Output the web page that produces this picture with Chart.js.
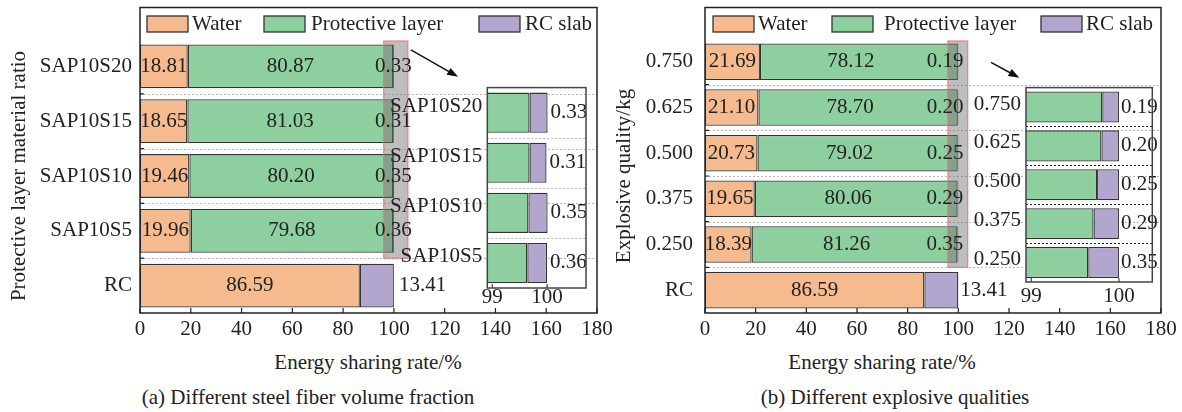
<!DOCTYPE html>
<html>
<head>
<meta charset="utf-8">
<script src="https://cdn.jsdelivr.net/npm/chart.js@4.4.1/dist/chart.umd.min.js"></script>
<style>
  body { margin: 0; background: #fff; }
  #page { position: relative; width: 1182px; height: 412px; overflow: hidden; background: #fff; }
  #page canvas { position: absolute; }
  .txt { position: absolute; font: 21px "Liberation Serif", serif; color: #222; white-space: nowrap; line-height: 1; transform: translate(-50%, -50%); }
</style>
</head>
<body>
<div id="page">
  <canvas id="mainA" width="625" height="345" style="left:0;top:0"></canvas>
  <canvas id="mainB" width="582" height="345" style="left:600px;top:0"></canvas>
  <canvas id="zoomA" width="210" height="240" style="left:390px;top:70px"></canvas>
  <canvas id="zoomB" width="230" height="240" style="left:940px;top:70px"></canvas>
  <div class="txt" style="left:368px;top:362px">Energy sharing rate/%</div>
  <div class="txt" style="left:882px;top:362px">Energy sharing rate/%</div>
  <div class="txt" style="left:308px;top:397px">(a) Different steel fiber volume fraction</div>
  <div class="txt" style="left:895px;top:397px">(b) Different explosive qualities</div>
</div>
<script>
// panel (a): protective layer material ratio
const ratioCats = ['SAP10S20', 'SAP10S15', 'SAP10S10', 'SAP10S5', 'RC'];
const ratioWater = [18.81, 18.65, 19.46, 19.96, 86.59];
const ratioLayer = [80.87, 81.03, 80.20, 79.68, null];
const ratioSlab = [0.33, 0.31, 0.35, 0.36, 13.41];

// panel (b): explosive quality
const massCats = ['0.750', '0.625', '0.500', '0.375', '0.250', 'RC'];
const massWater = [21.69, 21.10, 20.73, 19.65, 18.39, 86.59];
const massLayer = [78.12, 78.70, 79.02, 80.06, 81.26, null];
const massSlab = [0.19, 0.20, 0.25, 0.29, 0.35, 13.41];

const seriesNames = ['Water', 'Protective layer', 'RC slab'];
const seriesColors = ['#f5bb8e', '#8ecf9f', '#b3a6ce'];
const mainTicks = [0, 20, 40, 60, 80, 100, 120, 140, 160, 180];
const zoomTicks = [99, 100];

const FONT = '21px "Liberation Serif"';
Chart.defaults.font.family = '"Liberation Serif"';
Chart.defaults.font.size = 21;
Chart.defaults.color = '#222';

function buildDatasets(water, layer, slab) {
    return [water, layer, slab].map((data, i) => ({
        label: seriesNames[i],
        data,
        backgroundColor: seriesColors[i],
        borderColor: '#333',
        borderWidth: 1.3,
        borderSkipped: false,
        barPercentage: 0.8,
        categoryPercentage: 1,
        clip: 0
    }));
}

// frame round the plot, dotted row separators and inward ticks
const frameBox = {
    id: 'frameBox',
    beforeDatasetsDraw(chart, args, o) {
        const { ctx, chartArea: a, scales: { y } } = chart;
        ctx.save();
        ctx.strokeStyle = o.gridColor;
        ctx.lineWidth = 1;
        ctx.setLineDash([2, 2]);
        for (let i = 0; i < chart.data.labels.length - 1; i++) {
            const py = Math.round(y.getPixelForValue(i + 0.5)) + 0.5;
            ctx.beginPath();
            ctx.moveTo(a.left, py);
            ctx.lineTo(a.right, py);
            ctx.stroke();
        }
        ctx.restore();
    },
    afterDraw(chart, args, o) {
        const { ctx, chartArea: a, scales: { x, y } } = chart;
        const top = o.top != null ? o.top : a.top;
        ctx.save();
        ctx.strokeStyle = o.color;
        ctx.lineWidth = o.width;
        ctx.strokeRect(a.left, top, a.right - a.left, a.bottom - top);
        ctx.lineWidth = 1.2;
        ctx.beginPath();
        x.ticks.forEach(t => {
            const px = x.getPixelForValue(t.value);
            ctx.moveTo(px, a.bottom);
            ctx.lineTo(px, a.bottom - o.tickLen);
        });
        if (o.yTicks) {
            for (let i = 0; i < chart.data.labels.length - 1; i++) {
                const py = y.getPixelForValue(i + 0.5);
                ctx.moveTo(a.left, py);
                ctx.lineTo(a.left + 4, py);
            }
        }
        ctx.stroke();
        ctx.restore();
    }
};

// legend drawn inside the frame, above the bars
const boxLegend = {
    id: 'boxLegend',
    afterDraw(chart, args, o) {
        if (!o.offsets) return;
        const { ctx, chartArea: a } = chart;
        ctx.save();
        ctx.font = FONT;
        ctx.textBaseline = 'middle';
        ctx.textAlign = 'left';
        chart.data.datasets.forEach((ds, i) => {
            const bx = a.left + o.offsets[i];
            ctx.fillStyle = ds.backgroundColor;
            ctx.fillRect(bx, o.top, 41, 16);
            ctx.strokeStyle = '#333';
            ctx.lineWidth = 1.3;
            ctx.strokeRect(bx, o.top, 41, 16);
            ctx.fillStyle = '#222';
            ctx.fillText(ds.label, bx + o.textGap[i], o.top + 8);
        });
        ctx.restore();
    }
};

// shaded zoom window and the arrow pointing to the inset
const zoomMark = {
    id: 'zoomMark',
    afterDatasetsDraw(chart, args, o) {
        if (o.from == null) return;
        const { ctx, chartArea: a, scales: { x, y } } = chart;
        const x0 = x.getPixelForValue(o.from);
        const x1 = x.getPixelForValue(o.to);
        const y0 = a.top + 2;
        const y1 = y.getPixelForValue(o.rows - 0.5);
        ctx.save();
        ctx.fillStyle = 'rgba(110,110,110,0.45)';
        ctx.fillRect(x0, y0, x1 - x0, y1 - y0);
        ctx.strokeStyle = 'rgba(240,110,110,0.85)';
        ctx.lineWidth = 1.2;
        ctx.strokeRect(x0, y0, x1 - x0, y1 - y0);

        const ax = x.getPixelForValue(o.arrow[0][0]), ay = y.getPixelForValue(o.arrow[0][1]);
        const bx = x.getPixelForValue(o.arrow[1][0]), by = y.getPixelForValue(o.arrow[1][1]);
        const ang = Math.atan2(by - ay, bx - ax);
        ctx.strokeStyle = '#111';
        ctx.fillStyle = '#111';
        ctx.lineWidth = 1.5;
        ctx.beginPath();
        ctx.moveTo(ax, ay);
        ctx.lineTo(bx - 8 * Math.cos(ang), by - 8 * Math.sin(ang));
        ctx.stroke();
        ctx.beginPath();
        ctx.moveTo(bx, by);
        ctx.lineTo(bx - 11 * Math.cos(ang) + 4 * Math.sin(ang), by - 11 * Math.sin(ang) - 4 * Math.cos(ang));
        ctx.lineTo(bx - 11 * Math.cos(ang) - 4 * Math.sin(ang), by - 11 * Math.sin(ang) + 4 * Math.cos(ang));
        ctx.closePath();
        ctx.fill();
        ctx.restore();
    }
};

// value text on each segment
const valueLabels = {
    id: 'valueLabels',
    afterDatasetsDraw(chart, args, o) {
        const ctx = chart.ctx;
        const layer = chart.data.datasets[1].data;
        const skip = o.skip || [];
        ctx.save();
        ctx.font = FONT;
        ctx.fillStyle = '#222';
        ctx.textBaseline = 'middle';
        chart.data.datasets.forEach((ds, di) => {
            if (skip.includes(di)) return;
            chart.getDatasetMeta(di).data.forEach((bar, i) => {
                const v = ds.data[i];
                if (v == null) return;
                const start = Math.min(bar.x, bar.base);
                const end = Math.max(bar.x, bar.base);
                const text = v.toFixed(2);
                if (di === 2 && (o.slabOutside || layer[i] == null)) {
                    ctx.textAlign = 'left';
                    ctx.fillText(text, end + o.gap, bar.y);
                } else {
                    ctx.textAlign = 'center';
                    ctx.fillText(text, (start + end) / 2 + (o.shift ? o.shift[di] : 0), bar.y);
                }
            });
        });
        ctx.restore();
    }
};

function mainChart(id, cats, water, layer, slab, cfg) {
    return new Chart(document.getElementById(id), {
        type: 'bar',
        data: { labels: cats, datasets: buildDatasets(water, layer, slab) },
        plugins: [frameBox, zoomMark, valueLabels, boxLegend],
        options: {
            indexAxis: 'y',
            responsive: false,
            animation: false,
            layout: { padding: { top: 39, right: cfg.padRight, left: 0, bottom: 0 } },
            scales: {
                x: {
                    type: 'linear', stacked: true, min: 0, max: 180,
                    afterBuildTicks: s => { s.ticks = mainTicks.map(v => ({ value: v })); },
                    afterFit: s => { s.height = 32; },
                    grid: { display: false, drawTicks: false },
                    border: { display: false },
                    ticks: { padding: 4, maxRotation: 0, font: { size: 21 } }
                },
                y: {
                    type: 'category', stacked: true, offset: true,
                    afterFit: s => { s.width = cfg.axisWidth; },
                    grid: { display: false, drawTicks: false },
                    border: { display: false },
                    ticks: { padding: cfg.tickPad, font: { size: 21 } },
                    title: { display: true, text: cfg.title, font: { size: 21 }, padding: { top: cfg.titlePad, bottom: 0 } }
                }
            },
            plugins: {
                legend: { display: false },
                tooltip: { enabled: false },
                frameBox: { top: 7.5, color: '#222', width: 1.5, tickLen: 5, yTicks: true, gridColor: '#b8b8b8' },
                boxLegend: { top: 16, offsets: cfg.legendAt, textGap: cfg.legendGap },
                zoomMark: cfg.zoom,
                valueLabels: { shift: cfg.shift, gap: cfg.slabGap }
            }
        }
    });
}

function zoomChart(id, cats, water, layer, slab, cfg) {
    return new Chart(document.getElementById(id), {
        type: 'bar',
        data: { labels: cats, datasets: buildDatasets(water, layer, slab) },
        plugins: [frameBox, valueLabels],
        options: {
            indexAxis: 'y',
            responsive: false,
            animation: false,
            layout: { padding: { top: 12.7, right: cfg.padRight, left: 0, bottom: 0 } },
            scales: {
                x: {
                    type: 'linear', stacked: true, min: cfg.min, max: cfg.max,
                    afterBuildTicks: s => { s.ticks = zoomTicks.map(v => ({ value: v })); },
                    afterFit: s => { s.height = cfg.axisHeight; },
                    grid: { display: false, drawTicks: false },
                    border: { display: false },
                    ticks: { padding: cfg.xPad, maxRotation: 0, font: { size: 21 } }
                },
                y: {
                    type: 'category', stacked: true, offset: true,
                    afterFit: s => { s.width = cfg.axisWidth; },
                    grid: { display: false, drawTicks: false },
                    border: { display: false },
                    ticks: { padding: 5, labelOffset: cfg.labelOffset, font: { size: 21 } }
                }
            },
            plugins: {
                legend: { display: false },
                tooltip: { enabled: false },
                frameBox: { color: '#444', width: 1.5, tickLen: 4, yTicks: false, gridColor: cfg.gridColor },
                valueLabels: { skip: [0, 1], slabOutside: true, gap: cfg.slabGap }
            }
        }
    });
}

const ratioRows = ratioLayer.filter(v => v != null).length;
const massRows = massLayer.filter(v => v != null).length;

mainChart('mainA', ratioCats, ratioWater, ratioLayer, ratioSlab, {
    padRight: 28, axisWidth: 140, tickPad: 8, titlePad: 6.4,
    title: 'Protective layer material ratio',
    legendAt: [7, 124, 339], legendGap: [45, 47, 46],
    shift: [0, 0, 0], slabGap: 5,
    zoom: { from: 96.0, to: 105.5, rows: ratioRows, arrow: [[106.7, -0.30], [125.3, 0.19]] }
});

mainChart('mainB', massCats, massWater, massLayer, massSlab, {
    padRight: 21, axisWidth: 105, tickPad: 12, titlePad: 11.4,
    title: 'Explosive quality/kg',
    legendAt: [8, 127, 336], legendGap: [45, 52, 45],
    shift: [0, -8, -13], slabGap: 2,
    zoom: { from: 95.9, to: 103.7, rows: massRows, arrow: [[112.9, 0.01], [124.1, 0.35]] }
});

zoomChart('zoomA', ratioCats.slice(0, ratioRows), ratioWater.slice(0, ratioRows),
    ratioLayer.slice(0, ratioRows), ratioSlab.slice(0, ratioRows), {
    min: 98.91, max: 100.71, padRight: 14, axisWidth: 97.3, axisHeight: 22,
    xPad: -3, labelOffset: -6, gridColor: '#b8b8b8', slabGap: 3
});

zoomChart('zoomB', massCats.slice(0, massRows), massWater.slice(0, massRows),
    massLayer.slice(0, massRows), massSlab.slice(0, massRows), {
    min: 98.94, max: 100.38, padRight: 17.7, axisWidth: 86, axisHeight: 28,
    xPad: 2, labelOffset: -3, gridColor: '#222', slabGap: 2
});
</script>
</body>
</html>
